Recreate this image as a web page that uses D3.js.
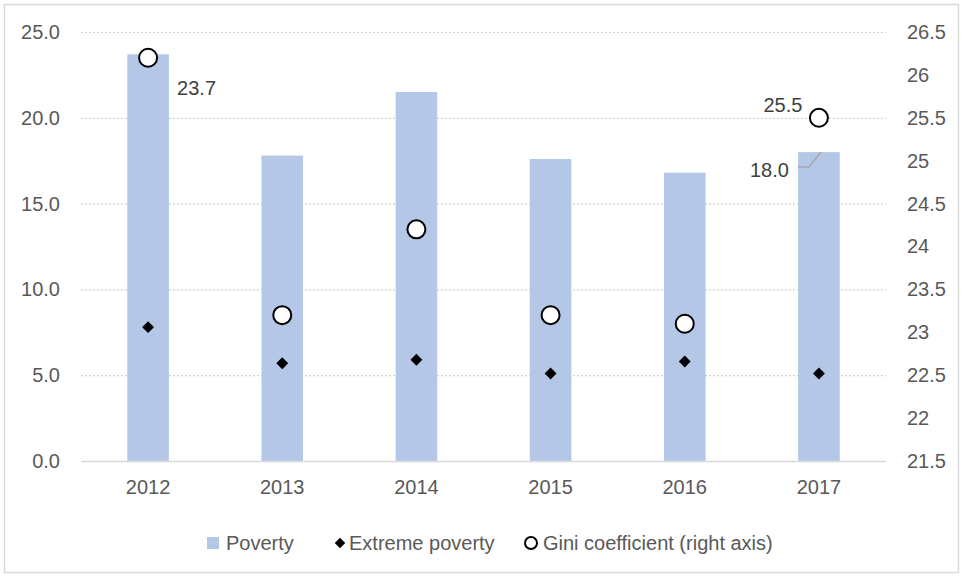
<!DOCTYPE html>
<html>
<head>
<meta charset="utf-8">
<script src="https://cdn.jsdelivr.net/npm/d3@7"></script>
<style>
  body { margin: 0; background: #fff; }
  svg { font-family: "Liberation Sans", Arial, sans-serif; }
</style>
</head>
<body>
<svg id="chart" width="963" height="577"></svg>
<script>
// data
const years = ["2012", "2013", "2014", "2015", "2016", "2017"];
const poverty = [23.7, 17.8, 21.5, 17.6, 16.8, 18.0];
const extremePoverty = [7.8, 5.7, 5.9, 5.1, 5.8, 5.1];
const gini = [26.2, 23.2, 24.2, 23.2, 23.1, 25.5];
const leftTicks = [0, 5, 10, 15, 20, 25];
const rightTicks = [21.5, 22, 22.5, 23, 23.5, 24, 24.5, 25, 25.5, 26, 26.5];

const svg = d3.select("#chart");
const margin = {top: 32, right: 77, bottom: 116, left: 81};
const W = 963, H = 577;
const textColor = "#595959";
const fs = "20px";

// outer border
svg.append("rect")
    .attr("x", 4.5).attr("y", 4.5)
    .attr("width", W - 9).attr("height", H - 9)
    .attr("fill", "none").attr("stroke", "#d9d9d9").attr("stroke-width", 1.5);

const x = d3.scaleBand()
    .domain(years)
    .range([margin.left, W - margin.right])
    .paddingInner(0.69).paddingOuter(0.345);

const yL = d3.scaleLinear().domain([0, 25]).range([H - margin.bottom, margin.top]);
const yR = d3.scaleLinear().domain([21.5, 26.5]).range([H - margin.bottom, margin.top]);

// grid lines
svg.append("g").selectAll("line")
    .data(leftTicks.filter(d => d > 0))
    .enter().append("line")
    .attr("x1", margin.left).attr("x2", W - margin.right)
    .attr("y1", d => yL(d) + 0.5).attr("y2", d => yL(d) + 0.5)
    .attr("stroke", "#d0d0d0").attr("stroke-width", 1.2)
    .attr("stroke-dasharray", "2,2");

// bars
svg.append("g").selectAll("rect")
    .data(poverty)
    .enter().append("rect")
    .attr("x", (d, i) => x(years[i]))
    .attr("width", x.bandwidth())
    .attr("y", d => yL(d))
    .attr("height", d => yL(0) - yL(d))
    .attr("fill", "#b4c7e7");

// x axis line
svg.append("line")
    .attr("x1", margin.left).attr("x2", W - margin.right)
    .attr("y1", yL(0) + 0.5).attr("y2", yL(0) + 0.5)
    .attr("stroke", "#d9d9d9").attr("stroke-width", 1.5);

// left axis labels
const leftAxis = d3.axisLeft(yL).tickValues(leftTicks).tickFormat(d3.format(".1f")).tickSize(0).tickPadding(21);
const gl = svg.append("g").attr("transform", `translate(${margin.left},0)`).call(leftAxis);
gl.select(".domain").remove();
gl.selectAll("text").attr("fill", textColor).style("font-size", fs);

// right axis labels
const rightAxis = d3.axisRight(yR).tickValues(rightTicks).tickFormat(d => d3.format("")(d)).tickSize(0).tickPadding(21);
const gr = svg.append("g").attr("transform", `translate(${W - margin.right},0)`).call(rightAxis);
gr.select(".domain").remove();
gr.selectAll("text").attr("fill", textColor).style("font-size", fs);

// x axis labels
const bottomAxis = d3.axisBottom(x).tickSize(0).tickPadding(19);
const gb = svg.append("g").attr("transform", `translate(0,${yL(0)})`).call(bottomAxis);
gb.select(".domain").remove();
gb.selectAll("text").attr("fill", textColor).style("font-size", fs);
[gl, gr, gb].forEach(g => g.attr("font-family", null));

const cx = i => x(years[i]) + x.bandwidth() / 2;

// extreme poverty diamonds
const diamond = d3.symbol().type(d3.symbolDiamond2).size(90);
svg.append("g").selectAll("path")
    .data(extremePoverty)
    .enter().append("path")
    .attr("d", diamond)
    .attr("transform", (d, i) => `translate(${cx(i)},${yL(d)})`)
    .attr("fill", "#000");

// gini circles
svg.append("g").selectAll("circle")
    .data(gini)
    .enter().append("circle")
    .attr("cx", (d, i) => cx(i))
    .attr("cy", d => yR(d))
    .attr("r", 9)
    .attr("fill", "#fff").attr("stroke", "#000").attr("stroke-width", 2);

// data labels
const lab = svg.append("g").attr("fill", "#404040").style("font-size", fs);
lab.append("text")
    .attr("x", cx(0) + 29).attr("y", yL(poverty[0]) + 41)
    .text(d3.format(".1f")(poverty[0]));
lab.append("text")
    .attr("x", cx(5) - 36).attr("y", yR(gini[5]) - 6)
    .attr("text-anchor", "middle")
    .text(d3.format(".1f")(gini[5]));
lab.append("text")
    .attr("x", cx(5) - 30).attr("y", yL(poverty[5]) + 25)
    .attr("text-anchor", "end")
    .text(d3.format(".1f")(poverty[5]));
// leader line for 18.0
const ly = yL(poverty[5]);
svg.append("polyline")
    .attr("points", `${cx(5) - 21},${ly + 15} ${cx(5) - 10},${ly + 15} ${cx(5) + 2},${ly}`)
    .attr("fill", "none").attr("stroke", "#a6a6a6").attr("stroke-width", 1.5);

// legend
const lg = svg.append("g").style("font-size", fs).attr("fill", textColor);
const legY = 543;
lg.append("rect").attr("x", 207).attr("y", legY - 6).attr("width", 12).attr("height", 12).attr("fill", "#b4c7e7");
lg.append("text").attr("x", 226).attr("y", legY + 7).text("Poverty");
lg.append("path").attr("d", d3.symbol().type(d3.symbolDiamond2).size(70))
    .attr("transform", `translate(340,${legY})`).attr("fill", "#000");
lg.append("text").attr("x", 349).attr("y", legY + 7).text("Extreme poverty");
lg.append("circle").attr("cx", 531).attr("cy", legY).attr("r", 6)
    .attr("fill", "#fff").attr("stroke", "#000").attr("stroke-width", 2);
lg.append("text").attr("x", 543).attr("y", legY + 7).text("Gini coefficient (right axis)");
</script>
</body>
</html>
